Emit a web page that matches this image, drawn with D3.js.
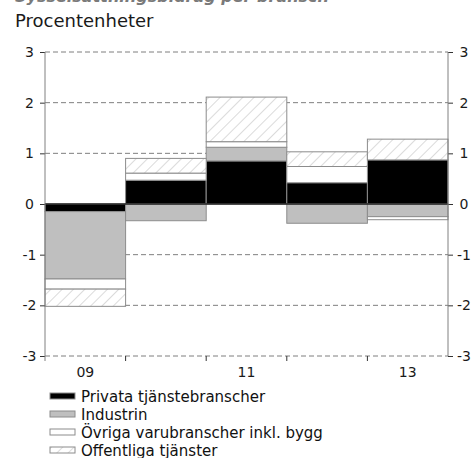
<!DOCTYPE html>
<html>
<head>
<meta charset="utf-8">
<script src="https://cdn.jsdelivr.net/npm/d3@7"></script>
<style>
  html, body { margin: 0; padding: 0; background: #fff; }
  svg { display: block; }
  text { font-family: "DejaVu Sans", Verdana, sans-serif; }
</style>
</head>
<body>
<svg id="chart" width="474" height="458"></svg>
<script>
// ---- data ----
const years = ["09", "10", "11", "12", "13"];
const yearLabels = ["09", "", "11", "", "13"];
const privata    = [-0.15, 0.47, 0.85, 0.42, 0.87];
const industrin  = [-1.33, -0.33, 0.27, -0.38, -0.25];
const ovriga     = [-0.20, 0.14, 0.11, 0.32, -0.06];
const offentliga = [-0.34, 0.29, 0.88, 0.29, 0.41];
const seriesNames = ["Privata tjänstebranscher", "Industrin", "Övriga varubranscher inkl. bygg", "Offentliga tjänster"];
const yTicks = [-3, -2, -1, 0, 1, 2, 3];
const unitLabel = "Procentenheter";
const titleText = "Sysselsättningsbidrag per bransch";

(function () {
const svg = d3.select("#chart");
const mLeft = 45, mRight = 448, mTop = 52, mBottom = 356;

const keys = ["privata", "industrin", "ovriga", "offentliga"];
const table = years.map((y, i) => ({
  year: y, privata: privata[i], industrin: industrin[i], ovriga: ovriga[i], offentliga: offentliga[i]
}));
const stacked = d3.stack().keys(keys).offset(d3.stackOffsetDiverging)(table);

const x = d3.scaleBand().domain(years).range([mLeft, mRight]).padding(0);
const y = d3.scaleLinear().domain([-3, 3]).range([mBottom, mTop]);

// hatch pattern
const defs = svg.append("defs");
const pat = defs.append("pattern")
  .attr("id", "hatch").attr("patternUnits", "userSpaceOnUse")
  .attr("width", 8).attr("height", 8)
  .attr("patternTransform", "rotate(45)");
pat.append("rect").attr("width", 8).attr("height", 8).attr("fill", "#fff");
pat.append("line").attr("x1", 0).attr("y1", 0).attr("x2", 0).attr("y2", 8)
  .attr("stroke", "#bdbdbd").attr("stroke-width", 1.1);

const fills = {privata: "#000000", industrin: "#bfbfbf", ovriga: "#ffffff", offentliga: "url(#hatch)"};

// cut-off title
svg.append("text").attr("x", 15).attr("y", 1.5)
  .attr("font-size", 16).attr("font-weight", "bold").attr("font-style", "italic")
  .attr("fill", "#7a7a7a").text(titleText);

svg.append("text").attr("x", 15).attr("y", 27)
  .attr("font-size", 18).attr("fill", "#1a1a1a").text(unitLabel);

// gridlines
svg.append("g").selectAll("line")
  .data(yTicks.filter(d => d !== 0))
  .join("line")
  .attr("x1", mLeft).attr("x2", mRight)
  .attr("y1", d => y(d)).attr("y2", d => y(d))
  .attr("stroke", "#7f7f7f").attr("stroke-width", 1)
  .attr("stroke-dasharray", "5,3");

// bars
svg.append("g").selectAll("g")
  .data(stacked)
  .join("g")
  .attr("fill", d => fills[d.key])
  .selectAll("rect")
  .data(d => d)
  .join("rect")
  .attr("x", d => x(d.data.year))
  .attr("width", x.bandwidth())
  .attr("y", d => y(Math.max(d[0], d[1])))
  .attr("height", d => Math.abs(y(d[0]) - y(d[1])))
  .attr("stroke", "#8c8c8c").attr("stroke-width", 1);

// zero line
svg.append("line")
  .attr("x1", mLeft).attr("x2", mRight)
  .attr("y1", y(0)).attr("y2", y(0))
  .attr("stroke", "#222").attr("stroke-width", 1.5);

// left / right axes
const axisColor = "#808080";
const fmt = d => d < 0 ? "-" + Math.abs(d) : String(d);
const gl = svg.append("g").attr("transform", `translate(${mLeft},0)`)
  .call(d3.axisLeft(y).tickValues(yTicks).tickSize(5).tickSizeOuter(0).tickFormat(fmt));
const gr = svg.append("g").attr("transform", `translate(${mRight},0)`)
  .call(d3.axisRight(y).tickValues(yTicks).tickSize(5).tickSizeOuter(0).tickFormat(fmt));
[gl, gr].forEach(g => {
  g.select(".domain").remove();
  g.selectAll(".tick line").attr("stroke", "#333");
  g.selectAll(".tick text").attr("font-size", 14).attr("fill", "#1a1a1a")
    .attr("font-family", "DejaVu Sans, Verdana, sans-serif")
    .attr("text-anchor", "middle");
});
gl.selectAll(".tick text").attr("x", -15.5);
gr.selectAll(".tick text").attr("x", 16);
svg.append("line").attr("x1", mLeft).attr("x2", mLeft).attr("y1", mTop).attr("y2", mBottom + 5)
  .attr("stroke", axisColor);
svg.append("line").attr("x1", mRight).attr("x2", mRight).attr("y1", mTop).attr("y2", mBottom)
  .attr("stroke", axisColor);

// bottom axis: ticks at band boundaries, labels at centers
const boundaries = years.slice(1).map(d => x(d));
svg.append("g").selectAll("line").data(boundaries).join("line")
  .attr("x1", d => d).attr("x2", d => d)
  .attr("y1", mBottom).attr("y2", mBottom + 5)
  .attr("stroke", "#333");
svg.append("g").selectAll("text").data(years).join("text")
  .attr("x", d => x(d) + x.bandwidth() / 2)
  .attr("y", mBottom + 20.5)
  .attr("text-anchor", "middle").attr("font-size", 14).attr("fill", "#1a1a1a")
  .text((d, i) => yearLabels[i]);

// legend
const lg = svg.append("g");
keys.forEach((k, i) => {
  const yy = 396 + i * 18;
  lg.append("rect").attr("x", 50).attr("y", yy - 3).attr("width", 25).attr("height", 6)
    .attr("fill", fills[k]).attr("stroke", "#8c8c8c").attr("stroke-width", 1);
  lg.append("text").attr("x", 81).attr("y", yy + 5.5).attr("font-size", 15).attr("fill", "#111")
    .text(seriesNames[i]);
});
})();
</script>
</body>
</html>
